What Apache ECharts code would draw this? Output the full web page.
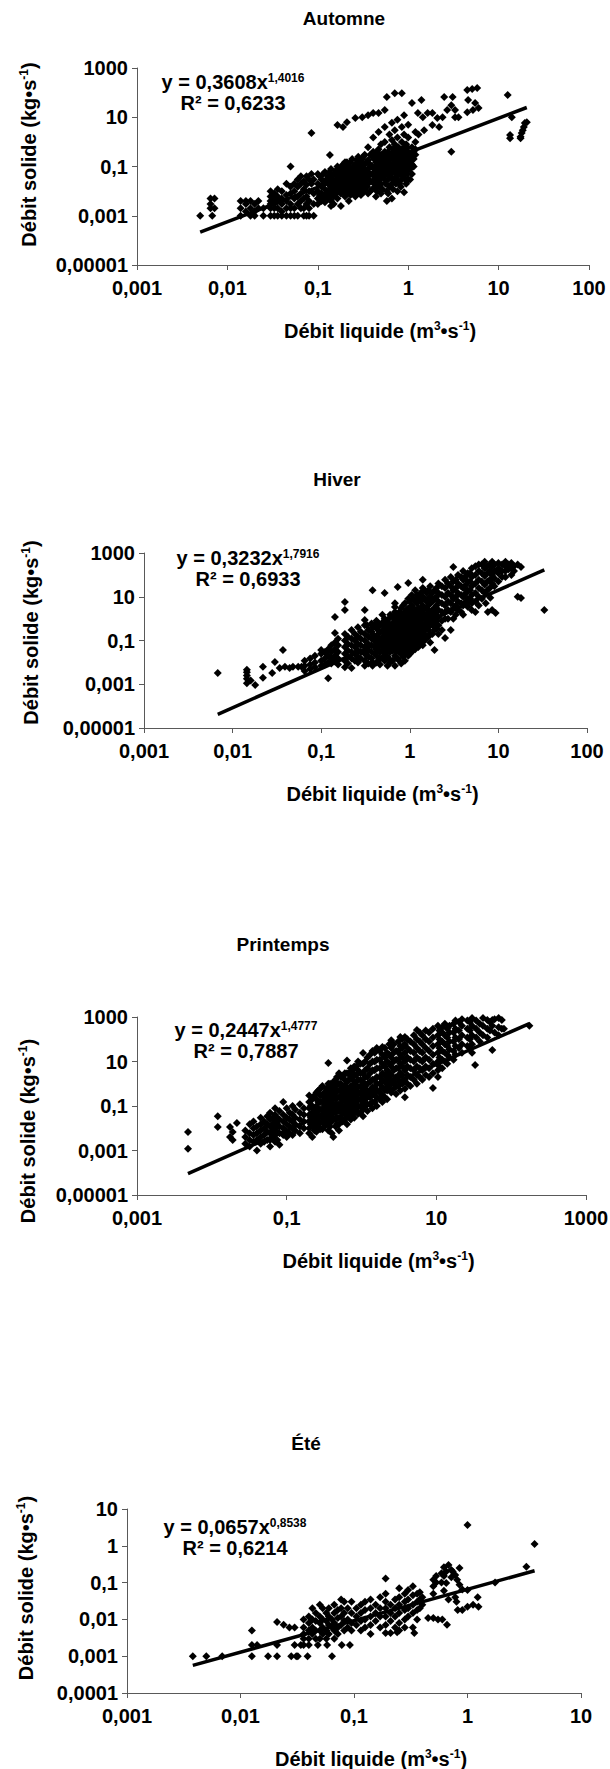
<!DOCTYPE html>
<html>
<head>
<meta charset="utf-8">
<script src="https://cdn.jsdelivr.net/npm/echarts@6.0.0/dist/echarts.min.js"></script>
<style>
  html, body { margin: 0; padding: 0; background: #fff; }
  #chart { width: 610px; height: 1769px; }
</style>
</head>
<body>
<div id="chart"></div>
<script>
// ---- data (Débit liquide [m3/s], Débit solide [kg/s]) ----
var seasons = ['Automne', 'Hiver', 'Printemps', 'Été'];
var fitA = [0.3608, 0.3232, 0.2447, 0.0657];
var fitB = [1.4016, 1.7916, 1.4777, 0.8538];
var fitR2 = [0.6233, 0.6933, 0.7887, 0.6214];

var automneXTicks = [0.001, 0.01, 0.1, 1, 10, 100];
var automneYTicks = [0.00001, 0.001, 0.1, 10, 1000];
var hiverXTicks = [0.001, 0.01, 0.1, 1, 10, 100];
var hiverYTicks = [0.00001, 0.001, 0.1, 10, 1000];
var printempsXTicks = [0.001, 0.1, 10, 1000];
var printempsYTicks = [0.00001, 0.001, 0.1, 10, 1000];
var eteXTicks = [0.001, 0.01, 0.1, 1, 10];
var eteYTicks = [0.0001, 0.001, 0.01, 0.1, 1, 10];

var automnePts = [
  [0.005,0.001],[0.0065,0.005],[0.0065,0.003],[0.0065,0.002],[0.0068,0.001],[0.0072,0.005],[0.0072,0.002],
  [0.014,0.004],[0.014,0.002],[0.014,0.001],[0.016,0.004],[0.016,0.003],[0.016,0.0015],[0.018,0.004],[0.018,0.002],[0.018,0.001],
  [0.02,0.003],[0.02,0.0015],[0.02,0.001],[0.022,0.004],[0.022,0.002],[0.025,0.002],[0.025,0.001],
  [0.03,0.01],[0.03,0.006],[0.03,0.004],[0.03,0.003],[0.03,0.002],[0.03,0.001],
  [0.033,0.008],[0.033,0.005],[0.033,0.003],[0.033,0.002],[0.033,0.001],
  [0.036,0.012],[0.036,0.006],[0.036,0.004],[0.036,0.002],[0.036,0.001],
  [0.04,0.01],[0.04,0.005],[0.04,0.003],[0.04,0.0015],[0.04,0.001],
  [0.045,0.02],[0.045,0.007],[0.045,0.004],[0.045,0.002],[0.045,0.001],
  [0.05,0.1],[0.05,0.015],[0.05,0.008],[0.05,0.003],[0.05,0.002],[0.05,0.001],
  [0.055,0.02],[0.055,0.01],[0.055,0.005],[0.055,0.002],[0.055,0.001],
  [0.06,0.03],[0.06,0.015],[0.06,0.006],[0.06,0.003],[0.06,0.001],
  [0.065,0.04],[0.065,0.02],[0.065,0.008],[0.065,0.004],[0.065,0.002],
  [0.07,0.025],[0.07,0.012],[0.07,0.005],[0.07,0.002],[0.07,0.001],
  [0.075,0.04],[0.075,0.018],[0.075,0.006],[0.075,0.003],[0.075,0.001],
  [0.08,0.03],[0.08,0.01],[0.08,0.004],[0.08,0.002],[0.08,0.001],
  [0.085,2.3],[0.085,0.05],[0.085,0.02],
  [0.09,0.03],[0.09,0.008],[0.09,0.003],[0.09,0.001],
  [0.1,0.05],[0.1,0.02],[0.1,0.01],[0.1,0.005],[0.1,0.003],
  [0.11,0.03],[0.11,0.015],[0.11,0.008],[0.11,0.004],
  [0.12,0.06],[0.12,0.025],[0.12,0.012],[0.12,0.006],[0.12,0.0035],
  [0.13,0.04],[0.13,0.02],[0.13,0.01],[0.13,0.005],[0.136,0.29],
  [0.14,0.08],[0.14,0.03],[0.14,0.015],[0.14,0.007],[0.14,0.004],[0.14,0.0025],
  [0.15,0.05],[0.15,0.025],[0.15,0.012],[0.15,0.006],[0.15,0.003],
  [0.165,4.8],[0.165,0.1],[0.165,0.04],[0.165,0.02],[0.165,0.01],[0.165,0.005],
  [0.18,0.07],[0.18,0.035],[0.18,0.015],[0.18,0.008],[0.18,0.0025],
  [0.19,4],[0.19,0.12],[0.19,0.05],[0.19,0.02],[0.19,0.01],
  [0.2,0.09],[0.2,0.04],[0.2,0.025],[0.2,0.012],[0.2,0.006],
  [0.21,6.3],[0.21,0.15],[0.21,0.06],[0.21,0.03],[0.21,0.015],[0.21,0.008],
  [0.22,0.1],[0.22,0.045],[0.22,0.02],[0.22,0.01],[0.22,0.004],
  [0.24,0.2],[0.24,0.08],[0.24,0.035],[0.24,0.018],[0.24,0.009],
  [0.26,9.3],[0.26,0.12],[0.26,0.06],[0.26,0.025],[0.26,0.012],[0.26,0.006],
  [0.28,0.25],[0.28,0.1],[0.28,0.04],[0.28,0.02],[0.28,0.01],
  [0.3,0.15],[0.3,0.07],[0.3,0.03],[0.3,0.015],[0.3,0.007],
  [0.31,10],[0.31,0.2],[0.31,0.1],[0.31,0.05],
  [0.33,0.3],[0.33,0.12],[0.33,0.05],[0.33,0.025],[0.33,0.012],
  [0.36,12],[0.36,0.6],[0.36,0.18],[0.36,0.08],[0.36,0.04],[0.36,0.02],[0.36,0.008],
  [0.4,0.25],[0.4,0.1],[0.4,0.05],[0.4,0.025],[0.4,0.012],
  [0.41,15],[0.41,1.5],[0.41,0.4],
  [0.44,0.35],[0.44,0.15],[0.44,0.07],[0.44,0.03],[0.44,0.015],[0.44,0.006],
  [0.47,15],[0.47,2.5],[0.47,0.5],[0.47,0.2],[0.47,0.1],[0.47,0.04],
  [0.5,0.8],[0.5,0.3],[0.5,0.12],[0.5,0.06],[0.5,0.02],[0.5,0.008],
  [0.55,19.5],[0.55,4],[0.55,1],[0.55,0.4],[0.55,0.15],[0.55,0.07],[0.55,0.03],
  [0.58,66],[0.58,0.25],[0.58,0.1],[0.58,0.05],[0.58,0.01],[0.58,0.004],
  [0.62,2],[0.62,0.6],[0.62,0.2],[0.62,0.09],[0.62,0.04],[0.62,0.015],
  [0.66,6],[0.66,1.2],[0.66,0.3],[0.66,0.12],[0.66,0.06],[0.66,0.02],[0.66,0.005],
  [0.71,95],[0.71,3],[0.71,0.8],[0.71,0.4],[0.71,0.15],[0.71,0.07],[0.71,0.03],
  [0.76,8],[0.76,1.5],[0.76,0.5],[0.76,0.2],[0.76,0.1],[0.76,0.04],[0.76,0.01],
  [0.8,0.3],[0.8,0.15],[0.8,0.06],[0.8,0.02],
  [0.85,95],[0.85,4],[0.85,1],[0.85,0.4],[0.85,0.2],[0.85,0.08],[0.85,0.03],
  [0.9,12],[0.9,2],[0.9,0.6],[0.9,0.25],[0.9,0.12],[0.9,0.05],[0.9,0.009],
  [0.95,0.8],[0.95,0.3],[0.95,0.15],[0.95,0.06],[0.95,0.02],
  [1,5],[1,1.5],[1,0.4],[1,0.2],[1,0.1],[1,0.03],
  [1.1,38],[1.1,0.6],[1.1,0.25],[1.1,0.12],[1.1,0.05],
  [1.2,2.5],[1.2,1],[1.2,0.5],[1.2,0.3],
  [0.105,0.04],[0.105,0.007],[0.115,0.05],[0.115,0.02],[0.115,0.006],[0.125,0.03],[0.125,0.008],
  [0.135,0.06],[0.135,0.012],[0.145,0.04],[0.145,0.02],[0.145,0.01],[0.16,0.07],[0.16,0.03],[0.16,0.015],[0.16,0.008],
  [0.17,0.05],[0.17,0.025],[0.17,0.012],[0.185,0.1],[0.185,0.04],[0.185,0.02],[0.185,0.012],
  [0.2,0.15],[0.2,0.06],[0.2,0.018],[0.215,0.08],[0.215,0.04],[0.215,0.02],
  [0.23,0.15],[0.23,0.06],[0.23,0.03],[0.23,0.015],[0.23,0.007],
  [0.25,0.1],[0.25,0.05],[0.25,0.025],[0.25,0.012],[0.27,0.18],[0.27,0.08],[0.27,0.035],[0.27,0.015],[0.27,0.008],
  [0.29,0.12],[0.29,0.05],[0.29,0.025],[0.29,0.012],[0.32,0.25],[0.32,0.08],[0.32,0.035],[0.32,0.018],[0.32,0.009],
  [0.35,0.15],[0.35,0.06],[0.35,0.03],[0.35,0.015],[0.38,0.3],[0.38,0.12],[0.38,0.05],[0.38,0.025],[0.38,0.01],
  [0.42,0.2],[0.42,0.08],[0.42,0.04],[0.42,0.02],[0.45,0.25],[0.45,0.1],[0.45,0.05],[0.45,0.02],[0.45,0.01],
  [0.48,0.3],[0.48,0.15],[0.48,0.07],[0.48,0.03],[0.48,0.015],[0.52,0.2],[0.52,0.1],[0.52,0.04],[0.52,0.012],
  [0.56,0.3],[0.56,0.12],[0.56,0.05],[0.56,0.02],[0.6,0.4],[0.6,0.15],[0.6,0.07],[0.6,0.03],[0.6,0.008],
  [0.64,0.25],[0.64,0.1],[0.64,0.04],[0.68,0.5],[0.68,0.2],[0.68,0.08],[0.68,0.03],[0.68,0.012],
  [0.73,0.3],[0.73,0.1],[0.73,0.05],[0.73,0.02],[0.78,0.6],[0.78,0.25],[0.78,0.12],[0.78,0.06],[0.78,0.025],
  [0.83,0.3],[0.83,0.12],[0.83,0.05],[0.83,0.015],[0.88,0.5],[0.88,0.2],[0.88,0.1],[0.88,0.04],
  [0.93,0.4],[0.93,0.2],[0.93,0.08],[0.93,0.03],[0.98,0.6],[0.98,0.25],[0.98,0.12],[0.98,0.05],
  [1.05,0.3],[1.05,0.15],[1.05,0.08],[1.05,0.03],[1.15,0.4],[1.15,0.2],[1.15,0.1],
  [1.28,15],[1.3,2],[1.45,10],[1.4,50],[1.5,3],[1.64,15],[1.85,15],[1.85,4.8],[2.1,9.3],[2.2,4],
  [2.4,10],[2.5,66],[2.7,19.5],[3,31],[3,0.4],[3.1,66],[3.3,19.5],[3.3,10],[3.6,10],
  [4.5,127],[4.5,16],[4.6,50],[5.1,140],[5.2,19.5],[5.5,38],[5.8,154],[6,24],
  [12.6,80],[14,10],[13.4,1.9],[13.4,1.4],[17.5,1.6],[17.5,1.4],[18,2.3],[18.5,3],[19,4],[19.5,5.8],[20.5,6.3]
];

var hiverPts = [
  [0.0068,0.0033],
  [0.0145,0.0046],[0.0145,0.0035],[0.0145,0.0025],[0.0145,0.0018],[0.0145,0.0011],[0.016,0.0015],[0.018,0.00093],
  [0.022,0.0063],[0.022,0.002],[0.028,0.0033],[0.03,0.0104],[0.037,0.037],
  [0.034,0.0055],[0.039,0.0063],[0.044,0.0055],[0.048,0.0063],[0.055,0.0063],[0.06,0.0063],
  [0.065,0.012],[0.065,0.007],[0.065,0.004],[0.075,0.015],[0.075,0.008],[0.075,0.005],
  [0.085,0.02],[0.085,0.01],[0.085,0.006],
  [0.1,0.037],[0.1,0.025],[0.1,0.012],[0.1,0.007],
  [0.11,0.03],[0.11,0.015],[0.11,0.008],
  [0.12,0.04],[0.12,0.02],[0.12,0.01],[0.12,0.0019],
  [0.13,0.06],[0.13,0.03],[0.13,0.015],[0.13,0.009],
  [0.143,1.2],[0.143,0.22],[0.143,0.08],[0.143,0.04],[0.143,0.02],[0.143,0.011],
  [0.155,0.12],[0.155,0.06],[0.155,0.03],[0.155,0.015],[0.155,0.008],
  [0.185,5.8],[0.185,2.5],[0.185,0.2],[0.185,0.1],[0.185,0.05],[0.185,0.025],[0.185,0.012],[0.185,0.006],
  [0.2,0.15],[0.2,0.07],[0.2,0.035],[0.2,0.018],[0.2,0.009],
  [0.22,0.3],[0.22,0.12],[0.22,0.06],[0.22,0.03],[0.22,0.015],[0.22,0.0056],
  [0.24,0.2],[0.24,0.1],[0.24,0.05],[0.24,0.025],[0.24,0.012],
  [0.26,0.4],[0.26,0.15],[0.26,0.07],[0.26,0.035],[0.26,0.018],[0.26,0.01],
  [0.28,0.25],[0.28,0.12],[0.28,0.06],[0.28,0.03],[0.28,0.015],
  [0.31,2.5],[0.31,0.87],[0.31,0.5],[0.31,0.2],[0.31,0.1],[0.31,0.05],[0.31,0.025],[0.31,0.012],[0.31,0.007],
  [0.34,0.3],[0.34,0.15],[0.34,0.07],[0.34,0.035],[0.34,0.018],[0.34,0.009],
  [0.37,0.6],[0.37,0.25],[0.37,0.12],[0.37,0.06],[0.37,0.03],[0.37,0.015],
  [0.38,20],[0.38,0.4],[0.38,0.2],[0.38,0.01],[0.38,0.007],
  [0.42,0.8],[0.42,0.35],[0.42,0.15],[0.42,0.08],[0.42,0.04],[0.42,0.02],[0.42,0.01],
  [0.46,0.5],[0.46,0.25],[0.46,0.12],[0.46,0.06],[0.46,0.03],[0.46,0.015],[0.46,0.008],
  [0.49,1.5],[0.49,0.63],
  [0.52,15],[0.52,1],[0.52,0.4],[0.52,0.2],[0.52,0.1],[0.52,0.05],[0.52,0.025],[0.52,0.012],
  [0.56,0.7],[0.56,0.3],[0.56,0.15],[0.56,0.07],[0.56,0.035],[0.56,0.018],[0.56,0.007],
  [0.6,1.5],[0.6,0.5],[0.6,0.25],[0.6,0.12],[0.6,0.06],[0.6,0.03],[0.6,0.01],
  [0.68,5],[0.68,3.4],[0.68,2],[0.68,0.8],[0.68,0.4],[0.68,0.2],[0.68,0.1],[0.68,0.05],[0.68,0.02],[0.68,0.007],
  [0.73,28],[0.73,1.2],[0.73,0.6],[0.73,0.3],[0.73,0.15],[0.73,0.08],[0.73,0.04],[0.73,0.015],
  [0.8,3],[0.8,1.5],[0.8,0.8],[0.8,0.4],[0.8,0.2],[0.8,0.1],[0.8,0.05],[0.8,0.025],[0.8,0.009],
  [0.88,5],[0.88,2],[0.88,1],[0.88,0.5],[0.88,0.25],[0.88,0.12],[0.88,0.06],[0.88,0.03],[0.88,0.012],
  [0.96,42],[0.96,8],[0.96,3],[0.96,1.5],[0.96,0.7],[0.96,0.35],[0.96,0.18],[0.96,0.09],[0.96,0.045],[0.96,0.02],
  [1.05,12],[1.05,4],[1.05,2],[1.05,1],[1.05,0.5],[1.05,0.25],[1.05,0.12],[1.05,0.06],[1.05,0.03],
  [1.15,20],[1.15,6],[1.15,2.5],[1.15,1.2],[1.15,0.6],[1.15,0.3],[1.15,0.15],[1.15,0.08],[1.15,0.04],
  [1.25,8],[1.25,3],[1.25,1.5],[1.25,0.8],[1.25,0.4],[1.25,0.2],[1.25,0.1],[1.25,0.05],
  [1.4,60],[1.4,25],[1.4,10],[1.4,4],[1.4,2],[1.4,1],[1.4,0.5],[1.4,0.25],[1.4,0.12],[1.4,0.06],
  [1.55,15],[1.55,6],[1.55,3],[1.55,1.5],[1.55,0.7],[1.55,0.35],[1.55,0.15],
  [1.7,30],[1.7,10],[1.7,5],[1.7,2],[1.7,1],[1.7,0.5],[1.7,0.2],[1.7,0.08],
  [1.9,20],[1.9,8],[1.9,3],[1.9,1.5],[1.9,0.7],[1.9,0.3],[1.9,0.037],
  [2.1,40],[2.1,15],[2.1,6],[2.1,2.5],[2.1,1.2],[2.1,0.5],[2.1,0.2],
  [2.5,60],[2.5,25],[2.5,10],[2.5,4],[2.5,2],[2.5,1],[2.5,0.13],
  [2.9,80],[2.9,30],[2.9,12],[2.9,5],[2.9,2],[2.9,0.3],
  [3.1,230],[3.1,50],[3.1,20],[3.1,8],[3.1,3],[3.1,1],
  [3.5,100],[3.5,40],[3.5,15],[3.5,6],[3.5,2.5],
  [4,150],[4,60],[4,25],[4,10],[4,4],[4,1.5],
  [4.5,120],[4.5,50],[4.5,20],[4.5,8],[4.5,3.5],
  [5,200],[5,80],[5,30],[5,12],[5,5],[5,2.5],[5.5,2],
  [6,300],[6,150],[6,60],[6,25],[6,10],[6,4],
  [7,400],[7,200],[7,90],[7,35],[7,15],[7.2,5],[7.6,2],[8.1,9],
  [8,300],[8,150],[8,60],[8,25],
  [8.5,400],[8.5,250],[8.5,100],[8.5,40],[8.5,2.5],[9.3,1.8],
  [10,350],[10,200],[10,120],[10,50],
  [12,400],[12,250],[12,150],[12,80],
  [14,350],[14,200],[14,100],
  [16.5,300],[16.5,10],[18,230],[18,8.8],[33,2.5],
  [0.33,0.5],[0.33,0.04],[0.33,0.02],[0.4,0.5],[0.4,0.1],[0.4,0.05],[0.4,0.025],
  [0.44,0.6],[0.44,0.2],[0.44,0.1],[0.44,0.05],[0.44,0.012],
  [0.5,0.7],[0.5,0.3],[0.5,0.15],[0.5,0.08],[0.5,0.04],[0.5,0.018],[0.54,0.5],[0.54,0.12],[0.54,0.03],
  [0.58,1],[0.58,0.4],[0.58,0.2],[0.58,0.09],[0.58,0.045],[0.58,0.015],
  [0.64,1.2],[0.64,0.6],[0.64,0.3],[0.64,0.15],[0.64,0.07],[0.64,0.035],[0.64,0.012],
  [0.7,1.5],[0.7,0.5],[0.7,0.25],[0.7,0.12],[0.7,0.06],[0.7,0.03],
  [0.76,2],[0.76,1],[0.76,0.5],[0.76,0.25],[0.76,0.12],[0.76,0.06],[0.76,0.03],[0.76,0.012],
  [0.84,4],[0.84,1.2],[0.84,0.6],[0.84,0.3],[0.84,0.15],[0.84,0.08],[0.84,0.04],[0.84,0.018],
  [0.92,2.5],[0.92,1.2],[0.92,0.6],[0.92,0.3],[0.92,0.15],[0.92,0.08],[0.92,0.04],
  [1,6],[1,3],[1,1.5],[1,0.8],[1,0.4],[1,0.2],[1,0.1],[1,0.05],[1,0.025],
  [1.1,8],[1.1,3],[1.1,1.5],[1.1,0.8],[1.1,0.4],[1.1,0.2],[1.1,0.1],[1.1,0.05],
  [1.2,12],[1.2,5],[1.2,2],[1.2,1],[1.2,0.5],[1.2,0.25],[1.2,0.12],[1.2,0.06],
  [1.32,15],[1.32,6],[1.32,2.5],[1.32,1.2],[1.32,0.6],[1.32,0.3],[1.32,0.15],[1.32,0.08],
  [1.47,20],[1.47,8],[1.47,3],[1.47,1.2],[1.47,0.5],[1.47,0.2],[1.47,0.1],
  [1.62,20],[1.62,8],[1.62,4],[1.62,1.5],[1.62,0.7],[1.62,0.3],[1.62,0.15],
  [1.8,15],[1.8,6],[1.8,2.5],[1.8,1.2],[1.8,0.5],[1.8,0.2],
  [2,25],[2,10],[2,4],[2,2],[2,0.8],[2,0.35],
  [2.3,30],[2.3,12],[2.3,5],[2.3,2],[2.3,0.8],[2.3,0.3],
  [2.7,40],[2.7,15],[2.7,6],[2.7,2.5],[2.7,1],
  [3.3,60],[3.3,25],[3.3,10],[3.3,4],[3.3,1.5],
  [3.8,80],[3.8,30],[3.8,12],[3.8,5],[3.8,2],
  [4.3,90],[4.3,35],[4.3,15],[4.3,6],
  [4.8,120],[4.8,50],[4.8,20],[4.8,8],
  [5.5,250],[5.5,100],[5.5,40],[5.5,15],[5.5,6],
  [6.5,300],[6.5,120],[6.5,50],[6.5,20],[6.5,8],
  [7.5,250],[7.5,120],[7.5,50],[7.5,20],
  [9,300],[9,150],[9,70],[9,30],
  [11,300],[11,150],[11,80],[13,300],[13,180],[15,250],[15,150]
];

var printempsPts = [
  [0.0048,0.0067],[0.0048,0.0012],
  [0.012,0.035],[0.012,0.0115],[0.0175,0.0115],[0.0216,0.017],[0.019,0.0068],[0.0175,0.004],[0.019,0.003],
  [0.028,0.008],[0.028,0.004],[0.028,0.002],
  [0.032,0.015],[0.032,0.006],[0.032,0.003],[0.032,0.0015],
  [0.036,0.02],[0.036,0.01],[0.036,0.005],[0.036,0.0025],
  [0.04,0.012],[0.04,0.006],[0.04,0.003],[0.04,0.001],
  [0.045,0.03],[0.045,0.015],[0.045,0.008],[0.045,0.004],[0.045,0.002],
  [0.05,0.02],[0.05,0.01],[0.05,0.005],[0.05,0.0025],
  [0.055,0.035],[0.055,0.015],[0.055,0.007],[0.055,0.003],
  [0.06,0.05],[0.06,0.025],[0.06,0.012],[0.06,0.006],[0.06,0.003],[0.06,0.0015],
  [0.065,0.03],[0.065,0.015],[0.065,0.008],[0.065,0.004],
  [0.07,0.08],[0.07,0.04],[0.07,0.02],[0.07,0.01],[0.07,0.005],[0.07,0.0025],
  [0.075,0.03],[0.075,0.015],[0.075,0.007],[0.075,0.003],
  [0.08,0.06],[0.08,0.025],[0.08,0.012],[0.08,0.006],[0.08,0.0018],
  [0.09,0.15],[0.09,0.04],[0.09,0.02],[0.09,0.01],[0.09,0.005],
  [0.1,0.08],[0.1,0.03],[0.1,0.015],[0.1,0.007],[0.1,0.004],
  [0.11,0.05],[0.11,0.025],[0.11,0.012],[0.11,0.006],
  [0.12,0.1],[0.12,0.04],[0.12,0.02],[0.12,0.01],[0.12,0.005],
  [0.13,0.07],[0.13,0.03],[0.13,0.015],[0.13,0.008],
  [0.15,0.12],[0.15,0.05],[0.15,0.025],[0.15,0.012],[0.15,0.006],
  [0.17,0.08],[0.17,0.04],[0.17,0.02],[0.17,0.01],
  [0.2,0.3],[0.2,0.15],[0.2,0.08],[0.2,0.04],[0.2,0.02],[0.2,0.01],[0.2,0.006],
  [0.22,0.2],[0.22,0.1],[0.22,0.05],[0.22,0.025],[0.22,0.012],[0.22,0.004],
  [0.25,0.4],[0.25,0.2],[0.25,0.1],[0.25,0.05],[0.25,0.025],[0.25,0.012],[0.25,0.007],
  [0.28,0.6],[0.28,0.3],[0.28,0.15],[0.28,0.07],[0.28,0.035],[0.28,0.018],[0.28,0.009],
  [0.32,0.4],[0.32,0.2],[0.32,0.1],[0.32,0.05],[0.32,0.025],[0.32,0.012],
  [0.36,8.5],[0.36,1],[0.36,0.5],[0.36,0.25],[0.36,0.12],[0.36,0.06],[0.36,0.03],[0.36,0.015],[0.36,0.008],
  [0.4,0.7],[0.4,0.35],[0.4,0.18],[0.4,0.09],[0.4,0.045],[0.4,0.02],[0.4,0.006],[0.42,0.004],
  [0.45,1.5],[0.45,0.8],[0.45,0.4],[0.45,0.2],[0.45,0.1],[0.45,0.05],[0.45,0.025],[0.45,0.012],
  [0.5,3],[0.5,1],[0.5,0.5],[0.5,0.25],[0.5,0.12],[0.5,0.06],[0.5,0.03],[0.5,0.015],[0.5,0.008],
  [0.56,2],[0.56,0.7],[0.56,0.35],[0.56,0.18],[0.56,0.09],[0.56,0.045],[0.56,0.02],
  [0.64,11],[0.64,3],[0.64,1.2],[0.64,0.6],[0.64,0.3],[0.64,0.15],[0.64,0.07],[0.64,0.035],[0.64,0.015],
  [0.72,5],[0.72,2],[0.72,0.8],[0.72,0.4],[0.72,0.2],[0.72,0.1],[0.72,0.05],[0.72,0.025],
  [0.8,6],[0.8,2.5],[0.8,1],[0.8,0.5],[0.8,0.25],[0.8,0.12],[0.8,0.06],[0.8,0.03],
  [0.9,10],[0.9,4],[0.9,1.5],[0.9,0.7],[0.9,0.35],[0.9,0.18],[0.9,0.09],[0.9,0.045],
  [1.05,24],[1.05,8],[1.05,3],[1.05,1.2],[1.05,0.6],[1.05,0.3],[1.05,0.15],[1.05,0.07],[1.05,0.035],
  [1.2,15],[1.2,5],[1.2,2],[1.2,1],[1.2,0.5],[1.2,0.25],[1.2,0.12],[1.2,0.06],
  [1.4,30],[1.4,10],[1.4,4],[1.4,1.5],[1.4,0.7],[1.4,0.35],[1.4,0.15],[1.4,0.08],
  [1.6,40],[1.6,12],[1.6,5],[1.6,2],[1.6,1],[1.6,0.5],[1.6,0.25],[1.6,0.1],
  [1.9,45],[1.9,20],[1.9,8],[1.9,3],[1.9,1.5],[1.9,0.7],[1.9,0.3],[1.9,0.15],
  [2.2,25],[2.2,10],[2.2,4],[2.2,2],[2.2,1],[2.2,0.5],[2.2,0.2],
  [2.5,90],[2.5,40],[2.5,15],[2.5,6],[2.5,2.5],[2.5,1],[2.5,0.4],
  [2.9,30],[2.9,12],[2.9,5],[2.9,2],[2.9,0.8],[2.9,0.35],
  [3.3,125],[3.3,50],[3.3,20],[3.3,8],[3.3,3],[3.3,1.2],[3.3,0.5],
  [3.8,125],[3.8,60],[3.8,25],[3.8,10],[3.8,4],[3.8,1.5],[3.8,0.6],[3.8,0.25],
  [4.5,80],[4.5,30],[4.5,12],[4.5,5],[4.5,2],[4.5,0.8],
  [5.5,260],[5.5,100],[5.5,40],[5.5,15],[5.5,6],[5.5,2.5],[5.5,1],
  [6.5,150],[6.5,60],[6.5,25],[6.5,10],[6.5,4],[6.5,1.5],
  [8,200],[8,80],[8,30],[8,12],[8,5],[8,2],[9,0.64],
  [10.5,400],[10.5,150],[10.5,60],[10.5,25],[10.5,10],[10.5,4],[10.5,2],
  [12,350],[12,200],[12,80],[12,30],[12,12],[12,5],
  [14,300],[14,120],[14,50],[14,20],[14,8],
  [17,500],[17,200],[17,80],[17,30],[17,12],
  [20,600],[20,250],[20,100],[20,40],
  [26,700],[26,300],[26,120],[26,50],
  [30,900],[30,400],[30,150],[30,60],[30,25],[33,7],
  [38,500],[38,200],[38,80],
  [48,730],[48,300],[48,120],
  [56,730],[56,400],[56,33],
  [68,900],[68,350],[68,150],
  [75,730],[75,300],[80,300],[175,400],
  [0.21,0.1],[0.21,0.03],[0.21,0.015],[0.235,0.3],[0.235,0.07],[0.235,0.035],[0.235,0.015],[0.235,0.008],
  [0.265,0.5],[0.265,0.15],[0.265,0.07],[0.265,0.035],[0.265,0.015],
  [0.3,0.8],[0.3,0.3],[0.3,0.15],[0.3,0.07],[0.3,0.035],[0.3,0.018],[0.3,0.009],
  [0.34,0.6],[0.34,0.3],[0.34,0.15],[0.34,0.07],[0.34,0.035],[0.34,0.018],
  [0.38,1],[0.38,0.5],[0.38,0.25],[0.38,0.12],[0.38,0.06],[0.38,0.03],[0.38,0.012],
  [0.42,1.2],[0.42,0.5],[0.42,0.25],[0.42,0.12],[0.42,0.06],[0.42,0.03],
  [0.47,2],[0.47,1],[0.47,0.5],[0.47,0.25],[0.47,0.12],[0.47,0.06],[0.47,0.03],[0.47,0.015],
  [0.53,2],[0.53,1],[0.53,0.5],[0.53,0.25],[0.53,0.12],[0.53,0.06],[0.53,0.03],
  [0.6,3],[0.6,1.5],[0.6,0.8],[0.6,0.4],[0.6,0.2],[0.6,0.1],[0.6,0.05],[0.6,0.025],
  [0.68,3],[0.68,1.5],[0.68,0.6],[0.68,0.3],[0.68,0.15],[0.68,0.07],[0.68,0.035],
  [0.76,4],[0.76,1.5],[0.76,0.7],[0.76,0.35],[0.76,0.15],[0.76,0.08],[0.76,0.04],
  [0.85,6],[0.85,2.5],[0.85,1.2],[0.85,0.5],[0.85,0.25],[0.85,0.12],[0.85,0.06],
  [0.97,8],[0.97,3],[0.97,1.5],[0.97,0.8],[0.97,0.4],[0.97,0.2],[0.97,0.1],[0.97,0.05],
  [1.12,10],[1.12,4],[1.12,2],[1.12,0.8],[1.12,0.4],[1.12,0.2],[1.12,0.1],
  [1.3,20],[1.3,8],[1.3,3],[1.3,1.2],[1.3,0.5],[1.3,0.25],[1.3,0.12],
  [1.5,25],[1.5,10],[1.5,4],[1.5,1.5],[1.5,0.7],[1.5,0.3],[1.5,0.15],
  [1.75,30],[1.75,12],[1.75,5],[1.75,2],[1.75,1],[1.75,0.4],[1.75,0.2],
  [2.05,40],[2.05,15],[2.05,6],[2.05,2.5],[2.05,1.2],[2.05,0.5],[2.05,0.25],
  [2.35,60],[2.35,20],[2.35,8],[2.35,3],[2.35,1.5],[2.35,0.6],
  [2.7,60],[2.7,25],[2.7,10],[2.7,4],[2.7,1.5],[2.7,0.6],
  [3.1,80],[3.1,30],[3.1,12],[3.1,5],[3.1,2],[3.1,0.8],
  [3.5,100],[3.5,40],[3.5,15],[3.5,6],[3.5,2.5],[3.5,1],
  [4.1,100],[4.1,40],[4.1,15],[4.1,6],[4.1,2.5],[4.1,1],
  [5,150],[5,60],[5,25],[5,10],[5,4],[5,1.5],
  [6,200],[6,80],[6,30],[6,12],[6,5],[6,2],
  [7.2,250],[7.2,100],[7.2,40],[7.2,15],[7.2,6],[7.2,2.5],
  [9,300],[9,120],[9,50],[9,20],[9,8],[9,3],
  [11,250],[11,100],[11,40],[11,15],[11,6],
  [13,500],[13,150],[13,60],[13,25],[13,10],
  [15,400],[15,200],[15,80],[15,35],[15,15],
  [18,700],[18,300],[18,120],[18,50],[18,20],
  [22,800],[22,400],[22,150],[22,60],[22,25],
  [28,600],[28,250],[28,100],[28,40],
  [34,700],[34,300],[34,120],
  [42,900],[42,400],[42,150],
  [52,600],[52,250],[60,800],[60,200]
];

var etePts = [
  [0.0038,0.001],[0.005,0.001],[0.0069,0.001],
  [0.0126,0.005],[0.0126,0.002],[0.0126,0.001],[0.014,0.002],
  [0.0175,0.001],[0.021,0.001],[0.021,0.002],[0.021,0.0085],[0.024,0.0072],[0.027,0.006],[0.03,0.006],
  [0.028,0.001],[0.031,0.001],[0.03,0.002],[0.034,0.002],[0.032,0.001],[0.039,0.001],
  [0.036,0.01],[0.036,0.006],[0.036,0.004],[0.036,0.003],[0.036,0.002],
  [0.04,0.012],[0.04,0.008],[0.04,0.005],[0.04,0.003],[0.04,0.002],
  [0.043,0.02],[0.043,0.01],[0.043,0.006],[0.043,0.004],
  [0.046,0.015],[0.046,0.009],[0.046,0.005],[0.046,0.003],[0.048,0.002],
  [0.05,0.025],[0.05,0.012],[0.05,0.008],[0.05,0.005],[0.05,0.003],
  [0.053,0.02],[0.053,0.01],[0.053,0.006],[0.053,0.004],
  [0.057,0.015],[0.057,0.009],[0.057,0.005],[0.057,0.003],[0.058,0.002],
  [0.06,0.02],[0.06,0.012],[0.06,0.007],[0.06,0.004],
  [0.064,0.01],[0.064,0.006],[0.064,0.001],
  [0.067,0.025],[0.067,0.015],[0.067,0.008],[0.067,0.005],[0.067,0.003],
  [0.072,0.018],[0.072,0.011],[0.072,0.006],[0.072,0.004],
  [0.077,0.035],[0.077,0.02],[0.077,0.012],[0.077,0.007],[0.078,0.002],
  [0.082,0.03],[0.082,0.015],[0.082,0.009],[0.082,0.005],
  [0.088,0.02],[0.088,0.01],[0.088,0.006],[0.092,0.002],
  [0.095,0.03],[0.095,0.015],[0.095,0.008],[0.095,0.005],
  [0.105,0.02],[0.105,0.012],[0.105,0.007],
  [0.115,0.025],[0.115,0.015],[0.115,0.009],[0.115,0.005],
  [0.125,0.03],[0.125,0.018],[0.125,0.01],[0.125,0.006],
  [0.14,0.035],[0.14,0.02],[0.14,0.012],[0.14,0.007],[0.14,0.004],
  [0.155,0.025],[0.155,0.015],[0.155,0.009],
  [0.17,0.04],[0.17,0.02],[0.17,0.012],[0.17,0.006],
  [0.19,0.13],[0.19,0.05],[0.19,0.03],[0.19,0.02],[0.19,0.012],[0.19,0.007],[0.19,0.0043],
  [0.21,0.025],[0.21,0.015],[0.21,0.009],[0.21,0.0043],
  [0.23,0.035],[0.23,0.02],[0.23,0.012],[0.23,0.006],[0.24,0.0045],
  [0.25,0.07],[0.25,0.04],[0.25,0.025],[0.25,0.015],[0.25,0.008],[0.25,0.005],
  [0.28,0.05],[0.28,0.03],[0.28,0.018],[0.28,0.01],[0.28,0.006],
  [0.3,0.063],[0.3,0.035],[0.3,0.02],[0.3,0.012],
  [0.33,0.08],[0.33,0.045],[0.33,0.025],[0.33,0.015],[0.33,0.006],[0.34,0.0043],
  [0.36,0.05],[0.36,0.03],[0.36,0.018],[0.36,0.01],
  [0.38,0.055],[0.38,0.035],[0.38,0.02],[0.4,0.04],[0.4,0.025],
  [0.45,0.011],[0.5,0.12],[0.5,0.08],[0.5,0.05],[0.5,0.011],[0.53,0.1],[0.53,0.15],[0.55,0.01],
  [0.59,0.1],[0.59,0.18],[0.6,0.01],[0.62,0.26],[0.62,0.15],[0.62,0.06],[0.65,0.097],[0.65,0.2],
  [0.66,0.0071],[0.68,0.035],[0.68,0.3],[0.72,0.22],[0.72,0.14],[0.74,0.2],[0.78,0.16],[0.78,0.04],
  [0.8,0.03],[0.81,0.12],[0.82,0.018],[0.85,0.087],[0.85,0.25],[0.9,0.018],[0.9,0.065],
  [1,3.7],[1,0.063],[1,0.022],[1.12,0.025],[1.23,0.04],[1.25,0.022],[1.75,0.1],[3.3,0.27],[3.9,1.12]
];

// ---- layout ----
var FONT = '"Liberation Sans", Arial, Helvetica, sans-serif';
var AXIS_COLOR = '#595959';
var layout = [
  { left: 137, top: 68,   width: 452, height: 197, titleX: 344, titleY: 9,    eqX: 233, eqY: 71.5,   yGap: 97,  yPad: [0, 0, 0, 24] },
  { left: 144, top: 553,  width: 443, height: 175, titleX: 337, titleY: 470,  eqX: 248, eqY: 547.5,  yGap: 102, yPad: [0, 0, 0, 16] },
  { left: 137, top: 1017, width: 449, height: 178, titleX: 283, titleY: 935,  eqX: 246, eqY: 1019.5, yGap: 98,  yPad: [0, 50, 0, 0] },
  { left: 127, top: 1509, width: 454, height: 184, titleX: 306, titleY: 1434, eqX: 235, eqY: 1516.5, yGap: 90,  yPad: [0, 0, 0, 26] }
];

var panels = [
  { pts: automnePts,   xTicks: automneXTicks,   yTicks: automneYTicks },
  { pts: hiverPts,     xTicks: hiverXTicks,     yTicks: hiverYTicks },
  { pts: printempsPts, xTicks: printempsXTicks, yTicks: printempsYTicks },
  { pts: etePts,       xTicks: eteXTicks,       yTicks: eteYTicks }
];

function fmtNum(v) { return String(v).replace('.', ','); }

function tickText(v, ticks) {
  for (var i = 0; i < ticks.length; i++) {
    if (Math.abs(Math.log10(v) - Math.log10(ticks[i])) < 0.01) return fmtNum(ticks[i]);
  }
  return '';
}

var nameRich = {
  b: { fontFamily: FONT, fontSize: 20, fontWeight: 'bold', color: '#000', lineHeight: 22 },
  s: { fontFamily: FONT, fontSize: 12, fontWeight: 'bold', color: '#000', lineHeight: 12, verticalAlign: 'top' }
};
var eqRich = {
  m: { fontFamily: FONT, fontSize: 20, fontWeight: 'bold', fill: '#000', color: '#000', lineHeight: 21 },
  s: { fontFamily: FONT, fontSize: 12, fontWeight: 'bold', fill: '#000', color: '#000', lineHeight: 12, verticalAlign: 'top' }
};

function logAxis(i, ticks, name, gap, pad, isY) {
  return {
    type: 'log', logBase: 10, gridIndex: i,
    min: ticks[0], max: ticks[ticks.length - 1],
    name: name, nameLocation: 'middle', nameGap: gap,
    nameTextStyle: { fontFamily: FONT, fontSize: 20, fontWeight: 'bold', color: '#000', padding: pad, rich: nameRich },
    axisLine: { show: true, lineStyle: { color: AXIS_COLOR, width: 1 } },
    axisTick: { show: true, inside: false, length: 5, customValues: ticks, lineStyle: { color: AXIS_COLOR, width: 1 } },
    axisLabel: {
      customValues: ticks, margin: isY ? 9 : 13,
      fontFamily: FONT, fontSize: 20, fontWeight: 'bold', color: '#000',
      formatter: function (v) { return tickText(v, ticks); }
    },
    splitLine: { show: false },
    minorTick: { show: false },
    minorSplitLine: { show: false }
  };
}

var option = {
  animation: false,
  backgroundColor: '#fff',
  title: [], grid: [], xAxis: [], yAxis: [], series: [], graphic: []
};

panels.forEach(function (p, i) {
  var L = layout[i];
  option.title.push({
    text: seasons[i], left: L.titleX, top: L.titleY, textAlign: 'center', padding: 0,
    textStyle: { fontFamily: FONT, fontSize: 19, fontWeight: 'bold', color: '#000' }
  });
  option.grid.push({ left: L.left, top: L.top, width: L.width, height: L.height, containLabel: false, outerBoundsMode: 'none' });
  option.xAxis.push(logAxis(i, p.xTicks, '{b|Débit liquide (m}{s|3}{b|•s}{s|-1}{b|)}', 55, [0, 0, 0, 34], false));
  option.yAxis.push(logAxis(i, p.yTicks, '{b|Débit solide (kg•s}{s|-1}{b|)}', L.yGap, L.yPad, true));

  option.series.push({
    type: 'scatter', xAxisIndex: i, yAxisIndex: i, data: p.pts,
    symbol: 'diamond', symbolSize: 8, itemStyle: { color: '#000', opacity: 1 }, z: 2, silent: true
  });

  // power-law trendline y = a x^b over the data's x range
  var xs = p.pts.map(function (d) { return d[0]; });
  var x0 = Math.min.apply(null, xs), x1 = Math.max.apply(null, xs);
  var fit = function (x) { return fitA[i] * Math.pow(x, fitB[i]); };
  option.series.push({
    type: 'line', xAxisIndex: i, yAxisIndex: i,
    data: [[x0, fit(x0)], [x1, fit(x1)]],
    symbol: 'none', lineStyle: { color: '#000', width: 3.5 }, z: 3, silent: true
  });

  option.graphic.push({
    type: 'text', x: L.eqX, y: L.eqY, silent: true, z: 10,
    style: {
      text: '{m|y = ' + fmtNum(fitA[i]) + 'x}{s|' + fmtNum(fitB[i]) + '}\n{m|R² = ' + fmtNum(fitR2[i]) + '}',
      align: 'center', verticalAlign: 'top', textAlign: 'center', textVerticalAlign: 'top',
      fill: '#000', fontFamily: FONT, fontSize: 20, fontWeight: 'bold',
      rich: eqRich
    }
  });
});

var chart = echarts.init(document.getElementById('chart'), null, { renderer: 'svg' });
chart.setOption(option);
</script>
</body>
</html>
